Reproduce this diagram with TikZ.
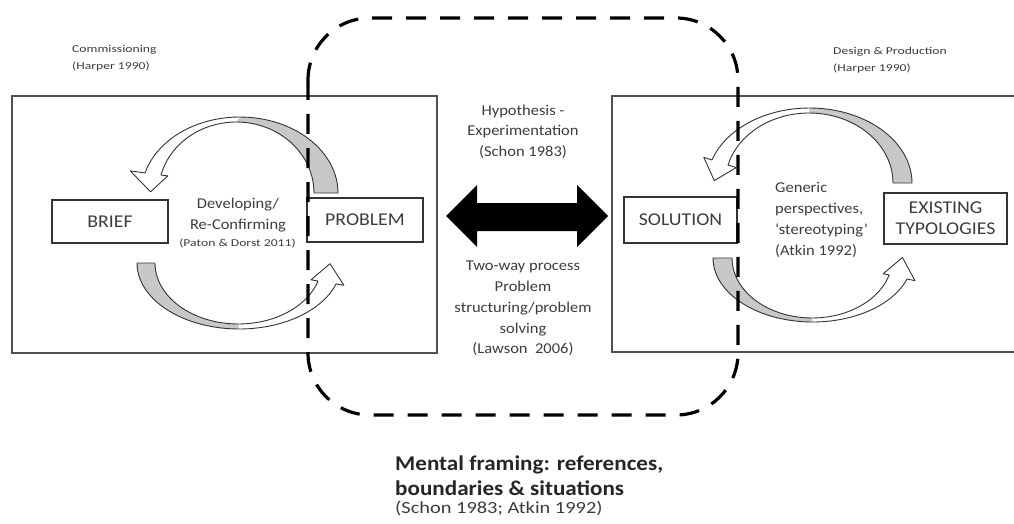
\documentclass[tikz,border=0pt]{standalone}
\usepackage{fontspec}
\setmainfont{Carlito}
\newfontfamily\smallf[FakeStretch=1.3]{Carlito}
\newfontfamily\midf[FakeStretch=1.1]{Carlito}
\newfontfamily\boxfont[FakeStretch=1.1]{Carlito}
\newfontfamily\titlef[FakeStretch=1.1]{Carlito}
\newfontfamily\citef[FakeStretch=1.2]{Carlito}
\definecolor{textgray}{HTML}{3C3C3C}
\definecolor{boxgray}{HTML}{333333}
\definecolor{framegray}{HTML}{505050}
\definecolor{shadegray}{HTML}{C8C8C8}
\tikzset{
  txtbase/.style={text=textgray, inner sep=0pt},
  smalltxt/.style={txtbase, font=\smallf\fontsize{10.5}{17}\selectfont},
  midtxt/.style={txtbase, font=\midf\fontsize{15}{20.6}\selectfont},
  lblbox/.style={draw=boxgray, line width=1.8pt, text=textgray, inner sep=0pt,
    font=\boxfont\fontsize{18}{21}\selectfont, align=center},
  framebox/.style={draw=framegray, line width=1.4pt},
  bandline/.style={draw=boxgray, line width=0.9pt, line join=round},
  shadefill/.style={fill=shadegray},
  framing/.style={draw=black, line width=3.2pt, dash pattern=on 20pt off 14pt, rounded corners=62pt},
  dblfill/.style={fill=black},
}
\begin{document}
\begin{tikzpicture}[x=1pt,y=-1pt]
\useasboundingbox (0,0) rectangle (1014,524);
% frames
\node[framebox, minimum width=425, minimum height=257, inner sep=0pt] (leftframe) at (224.5,224.5) {};
\draw[framebox] (1014,96) -- (612,96) -- (612,352) -- (1014,352);
% boxes
\node[lblbox, minimum width=116, minimum height=43] (brief) at (110,221.5) {BRIEF};
\node[lblbox, minimum width=116, minimum height=44] (problem) at (365,220) {PROBLEM};
\node[lblbox, minimum width=113, minimum height=46] (solution) at (680.5,220) {SOLUTION};
\node[lblbox, minimum width=123, minimum height=51] (exist) at (945.5,218.5) {EXISTING\\TYPOLOGIES};
% curved arrow 1 (problem -> brief, over the top)
\fill[shadefill] plot[domain=0:90,samples=30] ({239.8+98.2*cos(\x)},{193-76*sin(\x)})
  -- plot[domain=90:0,samples=30] ({236.2+77.8*cos(\x)},{193-71*sin(\x)}) -- cycle;
\draw[bandline] plot[domain=0:164.7,samples=50] ({239.8+98.2*cos(\x)},{193-76*sin(\x)})
  -- (130.2,170.9) -- (150.6,191.8) -- (167.8,175.9)
  -- plot[domain=165.3:0,samples=50] ({236.2+77.8*cos(\x)},{193-71*sin(\x)}) -- cycle;
% curved arrow 2 (brief -> problem, under)
\fill[shadefill] plot[domain=180:90,samples=30] ({239.2+102.2*cos(\x)},{263+66*sin(\x)})
  -- plot[domain=90:180,samples=30] ({238.4+83.4*cos(\x)},{263+61*sin(\x)}) -- cycle;
\draw[bandline] plot[domain=180:18.5,samples=50] ({239.2+102.2*cos(\x)},{263+66*sin(\x)})
  -- (343.9,285.3) -- (330,263.7) -- (311,279.8)
  -- plot[domain=17.2:180,samples=50] ({238.4+83.4*cos(\x)},{263+61*sin(\x)}) -- cycle;
% curved arrow 3 (typologies -> solution, over)
\fill[shadefill] plot[domain=0:90,samples=30] ({809.5+102.5*cos(\x)},{183-75*sin(\x)})
  -- plot[domain=90:0,samples=30] ({809.1+83.9*cos(\x)},{183-70*sin(\x)}) -- cycle;
\draw[bandline] plot[domain=0:162.1,samples=50] ({809.5+102.5*cos(\x)},{183-75*sin(\x)})
  -- (703.8,157.4) -- (714.3,180.6) -- (736.2,167.6)
  -- plot[domain=165.1:0,samples=50] ({809.1+83.9*cos(\x)},{183-70*sin(\x)}) -- cycle;
% curved arrow 4 (solution -> typologies, under)
\fill[shadefill] plot[domain=180:90,samples=30] ({812.8+99.8*cos(\x)},{258+64*sin(\x)})
  -- plot[domain=90:180,samples=30] ({812.2+80.2*cos(\x)},{258+60*sin(\x)}) -- cycle;
\draw[bandline] plot[domain=180:19.15,samples=50] ({812.8+99.8*cos(\x)},{258+64*sin(\x)})
  -- (915,280.7) -- (902.4,257.5) -- (883.2,273.7)
  -- plot[domain=16.46:180,samples=50] ({812.2+80.2*cos(\x)},{258+60*sin(\x)}) -- cycle;
% double block arrow between problem and solution
\coordinate (dl) at (446,216);
\coordinate (dr) at (608,216);
\fill[dblfill] (dl) -- ++(31,-31) -- ++(0,18) -- ++(100,0) -- ++(0,-18) -- (dr)
  -- ++(-31,31) -- ++(0,-16) -- ++(-100,0) -- ++(0,16) -- cycle;
% dashed mental frame
\draw[framing] (308,18) rectangle (738,415);
% texts
\node[smalltxt, align=left, anchor=west] (comm) at (72,58.5) {Commissioning\\(Harper 1990)};
\node[smalltxt, align=left, anchor=west] (design) at (833,60) {Design \& Production\\(Harper 1990)};
\node[midtxt, align=center] (hyp) at (523,131.5) {Hypothesis -\\Experimentation\\(Schon 1983)};
\node[midtxt, align=center] (dev) at (238,215) {Developing/\\Re-Confirming};
\node[smalltxt] (paton) at (237.5,243) {(Paton \& Dorst 2011)};
\node[midtxt, align=center, font=\midf\fontsize{15}{20.75}\selectfont] (twoway) at (523,308.5)
  {Two-way process\\Problem\\structuring/problem\\solving\\(Lawson~~2006)};
\node[midtxt, align=left, anchor=west, font=\midf\fontsize{15}{21}\selectfont] (generic) at (775,219.5)
  {Generic\\perspectives,\\‘stereotyping’\\(Atkin 1992)};
\node[txtbase, align=left, anchor=west, font=\titlef\bfseries\fontsize{21}{25}\selectfont, text=black!85] (mental) at (395,475.5)
  {Mental framing: references,\\boundaries \& situations};
\node[txtbase, anchor=west, font=\citef\fontsize{17}{20}\selectfont] (cite) at (395,508) {(Schon 1983; Atkin 1992)};
\end{tikzpicture}
\end{document}
